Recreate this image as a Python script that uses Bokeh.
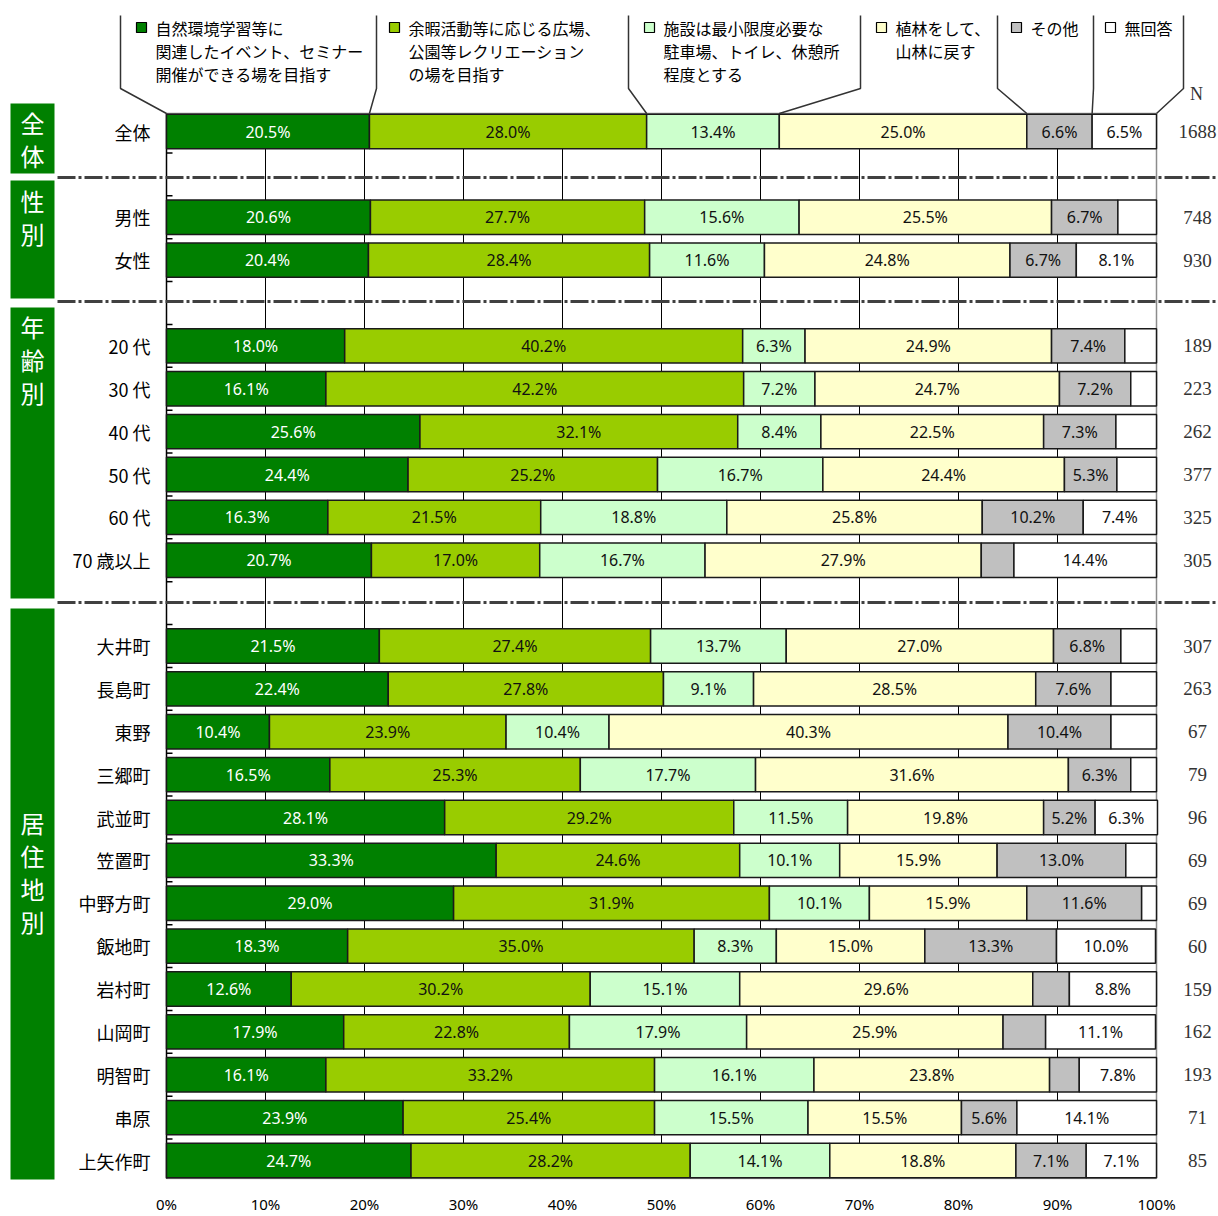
from bokeh.plotting import figure
from bokeh.models import Range1d, FixedTicker, ColumnDataSource
from bokeh.embed import file_html
from bokeh.resources import INLINE
from bokeh.core.properties import value

# ---------------- data ----------------
series_names = [
    "自然環境学習等に\n関連したイベント、セミナー\n開催ができる場を目指す",
    "余暇活動等に応じる広場、\n公園等レクリエーション\nの場を目指す",
    "施設は最小限度必要な\n駐車場、トイレ、休憩所\n程度とする",
    "植林をして、\n山林に戻す",
    "その他",
    "無回答",
]
series_colors = ["#008000", "#99CC00", "#CCFFCC", "#FFFFCC", "#C0C0C0", "#FFFFFF"]

group_names = ["全体", "性別", "年齢別", "居住地別"]
group_members = [
    ["全体"],
    ["男性", "女性"],
    ["20 代", "30 代", "40 代", "50 代", "60 代", "70 歳以上"],
    ["大井町", "長島町", "東野", "三郷町", "武並町", "笠置町", "中野方町",
     "飯地町", "岩村町", "山岡町", "明智町", "串原", "上矢作町"],
]
n_values = [1688, 748, 930, 189, 223, 262, 377, 325, 305, 307, 263, 67, 79,
            96, 69, 69, 60, 159, 162, 193, 71, 85]

s_nature = [20.5, 20.6, 20.4, 18.0, 16.1, 25.6, 24.4, 16.3, 20.7, 21.5, 22.4,
            10.4, 16.5, 28.1, 33.3, 29.0, 18.3, 12.6, 17.9, 16.1, 23.9, 24.7]
s_leisure = [28.0, 27.7, 28.4, 40.2, 42.2, 32.1, 25.2, 21.5, 17.0, 27.4, 27.8,
             23.9, 25.3, 29.2, 24.6, 31.9, 35.0, 30.2, 22.8, 33.2, 25.4, 28.2]
s_minimal = [13.4, 15.6, 11.6, 6.3, 7.2, 8.4, 16.7, 18.8, 16.7, 13.7, 9.1,
             10.4, 17.7, 11.5, 10.1, 10.1, 8.3, 15.1, 17.9, 16.1, 15.5, 14.1]
s_forest = [25.0, 25.5, 24.8, 24.9, 24.7, 22.5, 24.4, 25.8, 27.9, 27.0, 28.5,
            40.3, 31.6, 19.8, 15.9, 15.9, 15.0, 29.6, 25.9, 23.8, 15.5, 18.8]
s_other = [6.6, 6.7, 6.7, 7.4, 7.2, 7.3, 5.3, 10.2, 3.3, 6.8, 7.6,
           10.4, 6.3, 5.2, 13.0, 11.6, 13.3, 3.7, 4.3, 3.0, 5.6, 7.1]
s_noans = [6.5, 3.9, 8.1, 3.2, 2.6, 4.1, 4.0, 7.4, 14.4, 3.6, 4.6,
           4.6, 2.6, 6.3, 3.1, 1.5, 10.0, 8.8, 11.1, 7.8, 14.1, 7.1]
series_values = [s_nature, s_leisure, s_minimal, s_forest, s_other, s_noans]

tick_values = [0, 10, 20, 30, 40, 50, 60, 70, 80, 90, 100]
tick_labels = ["0%", "10%", "20%", "30%", "40%", "50%", "60%", "70%", "80%", "90%", "100%"]

# ---------------- layout ----------------
W, H = 1218, 1216
FRAME_BOTTOM_PX = 1179
X0_PX, PX_PER_PCT = 166.0, 9.9
Y0_PX, SLOT_PX = 131.0, 42.875


def xd(px):
    return (px - X0_PX) / PX_PER_PCT


def yd(px):
    return (px - Y0_PX) / SLOT_PX


JP = value("Noto Sans CJK JP")
SANS = value("Noto Sans")
SERIF = value("Liberation Serif")

categories, row_y = [], []
slot = 0
for gi, members in enumerate(group_members):
    if gi > 0:
        slot += 1
    for m in members:
        categories.append(m)
        row_y.append(slot)
        slot += 1
last_slot = slot - 1

AREA_TOP = yd(113)
AREA_BOTTOM = yd(1178)
BAR_H = 0.8

p = figure(width=W, height=H, x_range=Range1d(xd(0), xd(W)),
           y_range=Range1d(yd(FRAME_BOTTOM_PX), yd(0)),
           output_backend="svg", toolbar_location=None,
           min_border_left=0, min_border_right=0, min_border_top=0,
           min_border_bottom=H - FRAME_BOTTOM_PX,
           y_axis_location=None, x_axis_location="below")
p.title.visible = False
p.outline_line_color = None
p.background_fill_color = "white"
p.border_fill_color = "white"
p.grid.visible = False

ax = p.xaxis[0]
ax.ticker = FixedTicker(ticks=tick_values)
ax.major_label_overrides = {t: l for t, l in zip(tick_values, tick_labels)}
ax.axis_line_color = None
ax.major_tick_line_color = None
ax.minor_tick_line_color = None
ax.major_tick_out = 0
ax.major_tick_in = 0
ax.major_label_standoff = 14
ax.major_label_text_font = "Noto Sans"
ax.major_label_text_font_size = "15px"
ax.major_label_text_color = "#000000"

# gridlines
grid_x = [t for t in tick_values if 0 < t < 100]
p.segment(x0=grid_x, x1=grid_x, y0=[AREA_TOP] * len(grid_x), y1=[AREA_BOTTOM] * len(grid_x),
          line_color="#000000", line_width=1)
# frame lines
p.segment(x0=[0, 0, 100], x1=[100, 100, 100], y0=[AREA_TOP, AREA_BOTTOM, AREA_TOP],
          y1=[AREA_TOP, AREA_BOTTOM, AREA_BOTTOM], line_color="#8c8c8c", line_width=1.5)
p.segment(x0=[0], x1=[0], y0=[AREA_TOP], y1=[AREA_BOTTOM], line_color="#000000", line_width=1.5)
bounds = [k + 0.5 for k in range(0, last_slot)]
p.segment(x0=[0] * len(bounds), x1=[xd(172)] * len(bounds), y0=bounds, y1=bounds,
          line_color="#000000", line_width=1.5)

# separators
sep_px = [177, 301, 602]
p.segment(x0=[xd(57)] * 3, x1=[xd(1216)] * 3, y0=[yd(s) for s in sep_px], y1=[yd(s) for s in sep_px],
          line_color="#404040", line_width=3, line_dash="18 3 3 3")

# group boxes
box_top_px = [103, 180, 307, 608]
box_bot_px = [173, 298, 598, 1188]
p.quad(left=[xd(10)] * 4, right=[xd(54)] * 4, top=[yd(t) for t in box_top_px],
       bottom=[yd(b) for b in box_bot_px], fill_color="#008000", line_color=None)
label_start_px = [122, 200, 326, 822]
gx, gy, gt = [], [], []
for name, start in zip(group_names, label_start_px):
    for i, ch in enumerate(name):
        gx.append(xd(32))
        gy.append(yd(start + 33 * i))
        gt.append(ch)
p.text(x=gx, y=gy, text=gt, text_font=JP, text_font_size="24px", text_color="white",
       text_align="center", text_baseline="middle")

# bars
left = [0.0] * len(categories)
for si, vals in enumerate(series_values):
    right = [l + v for l, v in zip(left, vals)]
    src = ColumnDataSource(dict(y=row_y, left=left, right=right))
    p.hbar(y="y", left="left", right="right", height=BAR_H, source=src,
           fill_color=series_colors[si], line_color="#1a1a1a", line_width=1.5)
    lx = [(l + r) / 2 for l, r, v in zip(left, right, vals) if v >= 5.0]
    ly = [y for y, v in zip(row_y, vals) if v >= 5.0]
    lt = ["%.1f%%" % v for v in vals if v >= 5.0]
    p.text(x=lx, y=ly, text=lt, text_font=SANS, text_font_size="16px",
           text_color="white" if si == 0 else "#111111",
           text_align="center", text_baseline="middle")
    left = right

# category labels
p.text(x=[xd(150)] * len(categories), y=row_y, text=categories, text_font=JP,
       text_font_size="18px", text_color="#000000", text_align="right", text_baseline="middle")

# N column
p.text(x=[xd(1197)] * len(n_values), y=row_y, text=[str(n) for n in n_values], text_font=SERIF,
       text_font_size="19px", text_color="#333333", text_align="center", text_baseline="middle")
p.text(x=[xd(1196)], y=[yd(93)], text=["N"], text_font=SERIF, text_font_size="18px",
       text_color="#333333", text_align="center", text_baseline="middle")

# legend with callouts
divider_px = [120, 376, 628, 860, 997, 1093, 1183]
total_row = [vals[0] for vals in series_values]
edges = [0.0]
for v in total_row:
    edges.append(edges[-1] + v)
edges[-1] = 100.0
xs, ys = [], []
for dpx, e in zip(divider_px, edges):
    xs.append([xd(dpx), xd(dpx), e])
    ys.append([yd(15), yd(88), AREA_TOP])
p.multi_line(xs=xs, ys=ys, line_color="#333333", line_width=1.5)

legend_text_px = [155, 408, 663, 895, 1030, 1124]
p.scatter(x=[xd(t - 14) for t in legend_text_px], y=[yd(27)] * 6, marker="square", size=10,
          fill_color=series_colors, line_color="#000000", line_width=1.2)
tx, ty, tt = [], [], []
for name, tpx in zip(series_names, legend_text_px):
    for li, line in enumerate(name.split("\n")):
        tx.append(xd(tpx))
        ty.append(yd(27 + 23 * li))
        tt.append(line)
p.text(x=tx, y=ty, text=tt, text_font=JP, text_font_size="16px", text_color="#000000",
       text_align="left", text_baseline="middle")

open("out.html", "w").write(file_html(p, INLINE))
